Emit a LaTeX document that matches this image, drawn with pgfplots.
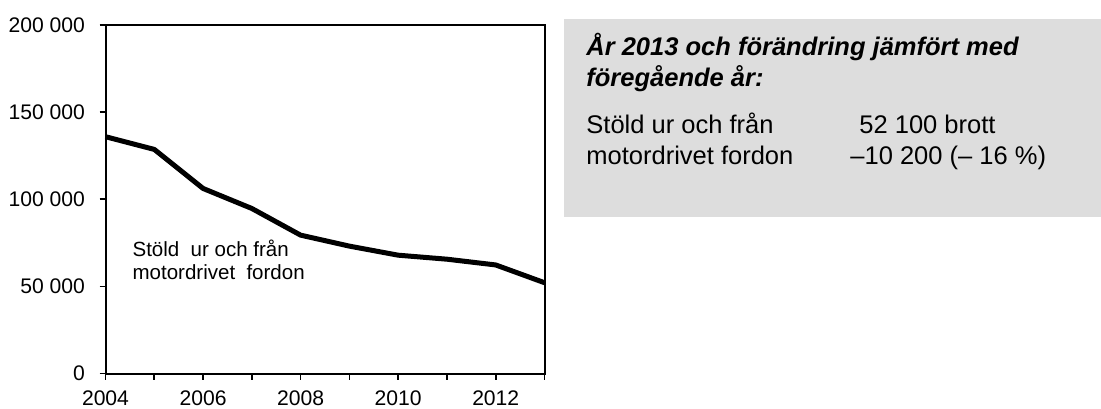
\documentclass[border=0pt]{standalone}
\usepackage{fontspec}
\setmainfont{Liberation Sans}
\usepackage{pgfplots}
\pgfplotsset{compat=1.18}
\definecolor{boxgray}{RGB}{221,221,221}

\begin{document}
\begin{tikzpicture}[x=1bp,y=1bp]
\useasboundingbox (0,0) rectangle (550.5,204);
% grey info box
\fill[boxgray] (282,95.5) rectangle (550.5,194.5);
\begin{axis}[
    at={(52.75bp,17.25bp)}, anchor=south west,
    scale only axis,
    width=219.5bp, height=174.25bp,
    xmin=2004, xmax=2013,
    ymin=0, ymax=200000,
    xtick={2004,2006,...,2012},
    xticklabels={2004,2006,2008,2010,2012},
    minor xtick={2005,2007,...,2013},
    ytick={0,50000,...,200000},
    yticklabels={0,50 000,100 000,150 000,200 000},
    scaled y ticks=false,
    tick pos=left,
    tick align=outside,
    major tick length=3bp,
    minor tick length=3bp,
    tick style={black, line width=0.8bp},
    axis line style={line width=1bp},
    tick label style={font=\fontsize{10.6}{12}\selectfont},
    x tick label style={yshift=-2.2bp},
    y tick label style={xshift=-3.8bp},
    clip=false,
]
\addplot[black, line width=2.5bp, line join=round] coordinates {
    (2004,135900) (2005,128600) (2006,106200) (2007,94700) (2008,79400)
    (2009,73100) (2010,67900) (2011,65600) (2012,62300) (2013,52100)
};
\end{axis}
% series label inside the chart
\begin{scope}[every node/.style={anchor=base west, inner sep=0, font=\fontsize{10.3}{12}\selectfont}]
\node at (66.1,75.6) {Stöld\hspace{0.55em}ur och från};
\node at (66.1,64.3) {motordrivet\hspace{0.55em}fordon};
\end{scope}
% info box text
\begin{scope}[every node/.style={anchor=base west, inner sep=0, font=\fontsize{12.8}{15}\selectfont}]
\node[font=\fontsize{12.8}{15}\selectfont\bfseries\itshape] at (293,176.5) {År 2013 och förändring jämfört med};
\node[font=\fontsize{12.8}{15}\selectfont\bfseries\itshape] at (293,161) {föregående år:};
\node at (293,137.5) {Stöld ur och från};
\node at (293,122) {motordrivet fordon};
\node at (429.5,137.5) {52 100 brott};
\node at (425,122) {–10 200 (– 16 \%)};
\end{scope}
\end{tikzpicture}
\end{document}
